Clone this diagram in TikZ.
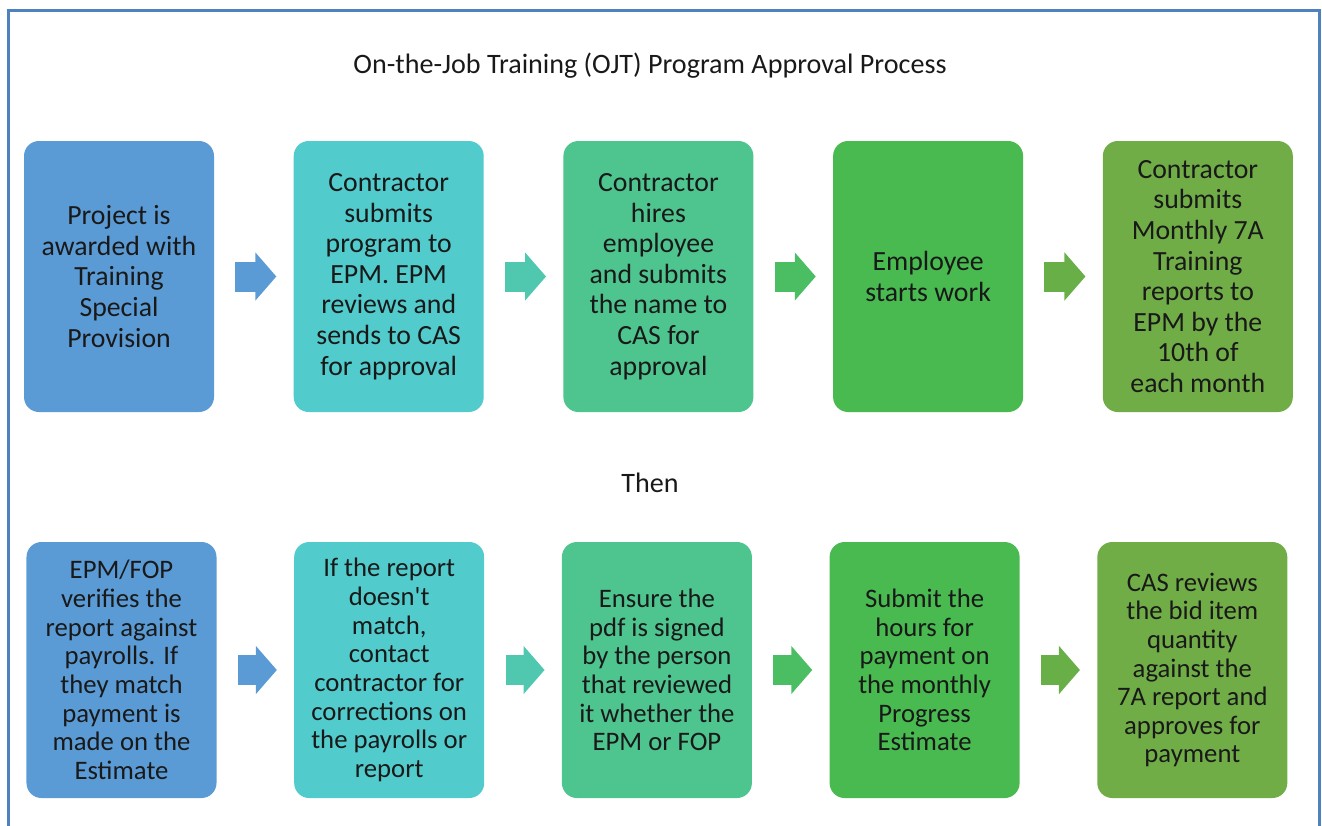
\documentclass[tikz,border=0pt]{standalone}
\usepackage{fontspec}
\setmainfont{Carlito}
\usepackage{tikz}
\usetikzlibrary{positioning,arrows.meta}

\definecolor{frameblue}{RGB}{79,129,189}
\definecolor{stepA}{RGB}{91,155,213}
\definecolor{stepB}{RGB}{82,203,204}
\definecolor{stepC}{RGB}{78,196,143}
\definecolor{stepD}{RGB}{72,186,80}
\definecolor{stepE}{RGB}{112,173,71}
\definecolor{arrowB}{RGB}{80,200,175}
\definecolor{arrowC}{RGB}{75,190,100}
\definecolor{arrowD}{RGB}{105,175,72}

\begin{document}
\begin{tikzpicture}[
    node distance=1.58cm,
    box/.style={rectangle, rounded corners=0.3cm, minimum width=3.8cm, minimum height=5.42cm,
        inner sep=2pt, align=center, text=black!90, font=\fontsize{15.8}{17.4}\selectfont},
    lowbox/.style={box, minimum height=5.12cm, font=\fontsize{15.2}{16.3}\selectfont},
    caption/.style={text=black!90, font=\fontsize{16}{19}\selectfont},
    arrow/.style={line width=0.6cm, -{Triangle[length=0.42cm, width=0.94cm]},
        shorten <=0.42cm, shorten >=0.34cm}
]
    \useasboundingbox (0,0) rectangle (26.44,-16.5);
    \draw[frameblue, line width=0.06cm] (0.18,-17) |- (26.38,-0.2) -- (26.38,-17);

    \node[caption] (title) at (13.0,-1.32) {On-the-Job Training (OJT) Program Approval Process};

    % first row
    \node[box, fill=stepA] (award) at (2.38,-5.53) {Project is\\awarded with\\Training\\Special\\Provision};
    \node[box, fill=stepB, right=of award] (program) {Contractor\\submits\\program to\\EPM. EPM\\reviews and\\sends to CAS\\for approval};
    \node[box, fill=stepC, right=of program] (hire) {Contractor\\hires\\employee\\and submits\\the name to\\CAS for\\approval};
    \node[box, fill=stepD, right=of hire] (work) {Employee\\starts work};
    \node[box, fill=stepE, right=of work] (monthly) {Contractor\\submits\\Monthly 7A\\Training\\reports to\\EPM by the\\10th of\\each month};

    \draw[arrow, stepA] (award) -- (program);
    \draw[arrow, arrowB] (program) -- (hire);
    \draw[arrow, arrowC] (hire) -- (work);
    \draw[arrow, arrowD] (work) -- (monthly);

    \node[caption] (then) at (13.0,-9.66) {Then};

    % second row
    \node[lowbox, fill=stepA] (verify) at (2.43,-13.4) {EPM/FOP\\verifies the\\report against\\payrolls. If\\they match\\payment is\\made on the\\Estimate};
    \node[lowbox, fill=stepB, right=1.54cm of verify] (contact) {If the report\\doesn\textquotesingle t\\match,\\contact\\contractor for\\corrections on\\the payrolls or\\report};
    \node[lowbox, fill=stepC, right=1.54cm of contact] (sign) {Ensure the\\pdf is signed\\by the person\\that reviewed\\it whether the\\EPM or FOP};
    \node[lowbox, fill=stepD, right=1.54cm of sign] (hours) {Submit the\\hours for\\payment on\\the monthly\\Progress\\Estimate};
    \node[lowbox, fill=stepE, right=1.54cm of hours] (approve) {CAS reviews\\the bid item\\quantity\\against the\\7A report and\\approves for\\payment};

    \draw[arrow, stepA] (verify) -- (contact);
    \draw[arrow, arrowB] (contact) -- (sign);
    \draw[arrow, arrowC] (sign) -- (hours);
    \draw[arrow, arrowD] (hours) -- (approve);
\end{tikzpicture}
\end{document}
